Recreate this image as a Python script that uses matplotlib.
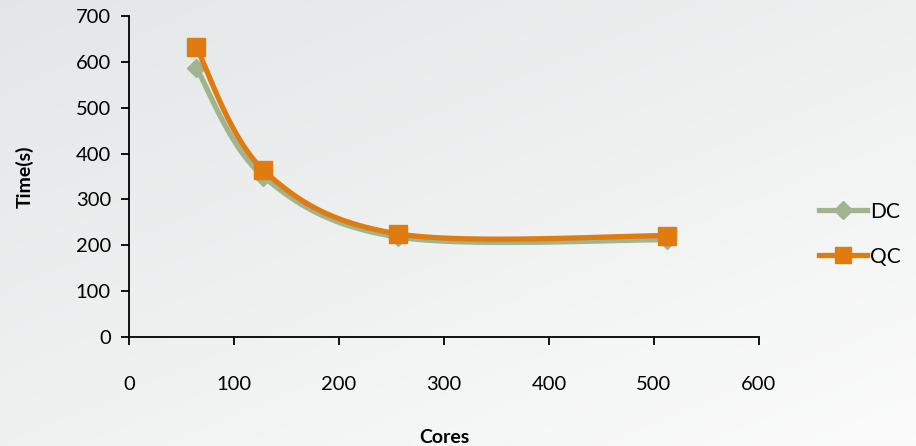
import numpy as np
import matplotlib
matplotlib.use("Agg")
import matplotlib.pyplot as plt
from matplotlib.lines import Line2D

cores = [64, 128, 256, 512]
dc = [587, 350, 218, 212]
qc = [632, 364, 225, 221]
series_names = ["DC", "QC"]

def smooth(x, y, n=40):
    x = np.asarray(x, float); y = np.asarray(y, float)
    px = np.concatenate([[x[0]], x, [x[-1]]])
    py = np.concatenate([[y[0]], y, [y[-1]]])
    xs, ys = [], []
    for i in range(1, len(px) - 2):
        p0 = np.array([px[i], py[i]]); p3 = np.array([px[i+1], py[i+1]])
        p1 = p0 + (np.array([px[i+1], py[i+1]]) - np.array([px[i-1], py[i-1]])) / 6
        p2 = p3 - (np.array([px[i+2], py[i+2]]) - np.array([px[i], py[i]])) / 6
        t = np.linspace(0, 1, n)[:, None]
        pts = (1-t)**3*p0 + 3*(1-t)**2*t*p1 + 3*(1-t)*t**2*p2 + t**3*p3
        xs.append(pts[:, 0]); ys.append(pts[:, 1])
    return np.concatenate(xs), np.concatenate(ys)

plt.rcParams['font.family'] = ['Lato', 'DejaVu Sans']
fig = plt.figure(figsize=(9.16, 4.46), dpi=100)
bg = fig.add_axes([0, 0, 1, 1], zorder=-10)
gx, gy = np.meshgrid(np.linspace(0, 1, 200), np.linspace(0, 1, 100))
g = np.clip((gx * 0.6 + gy * 0.7) / 1.3, 0, 1)
c0 = np.array([0.89, 0.905, 0.905]); c1 = np.array([0.985, 0.985, 0.985])
img = c0[None, None, :] * (1 - g[..., None]) + c1[None, None, :] * g[..., None]
bg.imshow(img, aspect='auto', extent=[0, 1, 0, 1], origin='upper')
bg.axis('off')

ax = fig.add_axes([129/916, (446-337)/446, (759-129)/916, (337-16)/446])
ax.patch.set_alpha(0)
dcol = '#A0B48F'; qcol = '#E07B10'
sx, sy = smooth(cores, dc)
ax.plot(sx, sy, color=dcol, lw=3.8, solid_capstyle='round', zorder=2)
ax.plot(cores, dc, 'D', color=dcol, ms=9, zorder=3)
sx, sy = smooth(cores, qc)
ax.plot(sx, sy, color=qcol, lw=3.8, solid_capstyle='round', zorder=4)
ax.plot(cores, qc, 's', color=qcol, ms=13, zorder=5)

ax.set_xlim(0, 600); ax.set_ylim(0, 700)
ax.set_xticks(range(0, 601, 100)); ax.set_yticks(range(0, 701, 100))
for s in ['top', 'right']:
    ax.spines[s].set_visible(False)
for s in ['left', 'bottom']:
    ax.spines[s].set_linewidth(1.3)
ax.tick_params(direction='out', length=6, width=1.3, labelsize=14.5, pad=7)
ax.tick_params(axis='x', pad=22)
ax.set_xlabel('Cores', fontsize=14, fontweight='bold', labelpad=26)
ax.set_ylabel('Time(s)', fontsize=14, fontweight='bold', labelpad=30)

handles = [Line2D([], [], color=dcol, lw=3.8, marker='D', ms=9),
           Line2D([], [], color=qcol, lw=3.8, marker='s', ms=12)]
fig.legend(handles, series_names, loc='center left', bbox_to_anchor=(800/916, 1 - 234/446),
           frameon=False, fontsize=15, handlelength=2.3, handletextpad=0.15, labelspacing=1.2)
fig.savefig('out.png', dpi=100)
